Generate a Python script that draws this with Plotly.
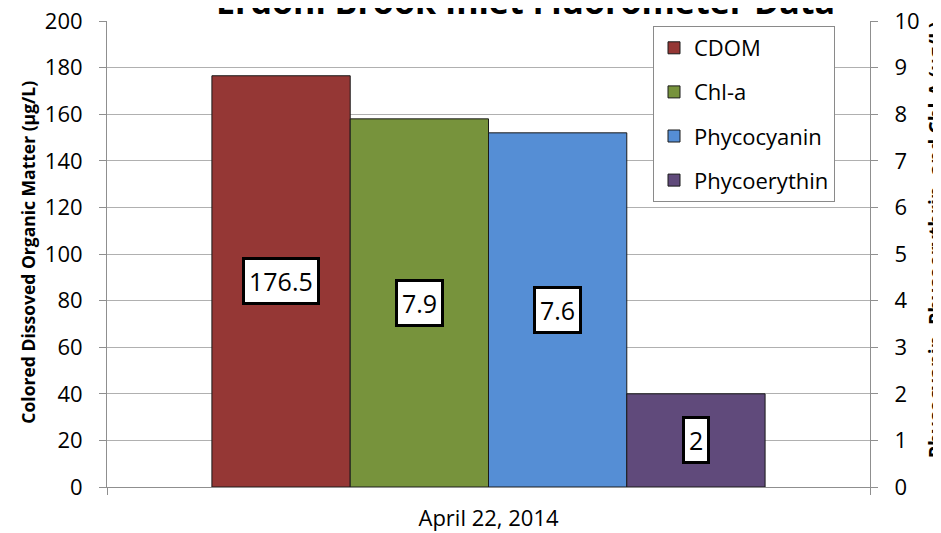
import plotly.graph_objects as go

# ---- data ----
category = ["April 22, 2014"]
series_names = ["CDOM", "Chl-a", "Phycocyanin", "Phycoerythin"]
series_values = [176.5, 7.9, 7.6, 2]
series_axis = ["y", "y2", "y2", "y2"]
series_colors = ["#953735", "#77933C", "#558ED5", "#604A7B"]
left_ticks = list(range(0, 201, 20))
right_ticks = list(range(0, 11, 1))

title_text = "Erdohl Brook Inlet Fluorometer Data"
left_title = "Colored Dissoved Organic Matter (µg/L)"
right_title = "Phycocyanin, Phycoerythrin, and Chl-A (µg/L)"

FONT = "Open Sans"
bargap = 0.275
n = len(series_names)

fig = go.Figure()
for i, (name, val, ax, col) in enumerate(zip(series_names, series_values, series_axis, series_colors)):
    fig.add_trace(go.Bar(
        x=category, y=[val], name=name, yaxis=ax,
        offsetgroup=str(i), legendgroup=str(i),
        marker=dict(color=col, line=dict(color="#1a1a1a", width=1)),
        hoverinfo="skip",
    ))

# data labels (boxed), centred on each bar
w = (1 - bargap) / n
for i, (val, ax) in enumerate(zip(series_values, series_axis)):
    xc = -0.5 * (1 - bargap) + (i + 0.5) * w
    fig.add_annotation(
        x=xc, y=val / 2, xref="x", yref=ax,
        text=str(val), showarrow=False,
        font=dict(family=FONT, size=25, color="black"),
        bgcolor="white", bordercolor="black", borderwidth=3, borderpad=4,
    )

# axis titles
fig.add_annotation(
    x=-0.1035, y=0.503, xref="paper", yref="paper",
    xanchor="center", yanchor="middle",
    text="<b>" + left_title + "</b>", textangle=-90, showarrow=False,
    font=dict(family=FONT, size=17.5, color="black"),
)
fig.add_annotation(
    x=1.0855, y=0.53, xref="paper", yref="paper",
    xanchor="center", yanchor="middle",
    text="<b>" + right_title + "</b>", textangle=-90, showarrow=False,
    font=dict(family=FONT, size=19.5, color="black"),
)

axis_col = "#8f8f8f"
grid_col = "#b0b0b0"
TICK = 22

fig.update_layout(
    width=933, height=525,
    margin=dict(l=99, r=71, t=13, b=46, autoexpand=False),
    paper_bgcolor="white", plot_bgcolor="white",
    title=dict(
        text="<b>" + title_text + "</b>",
        xref="container", yref="container",
        x=0.5547, y=0.988, xanchor="center", yanchor="bottom",
        font=dict(family=FONT, size=34, color="black"),
    ),
    barmode="group", bargap=bargap, bargroupgap=0,
    font=dict(family=FONT, size=TICK, color="black"),
    showlegend=True,
    legend=dict(
        x=(653 - 107) / 763, y=(487 - 26) / 466, xanchor="left", yanchor="top",
        bordercolor="#8a8a8a", borderwidth=1, bgcolor="white",
        font=dict(family=FONT, size=22, color="black"),
        traceorder="grouped", tracegroupgap=12.5,
    ),
    xaxis=dict(
        type="category", tickson="boundaries", ticks="outside", ticklen=7,
        tickcolor=axis_col, showline=True, linecolor=axis_col, linewidth=1,
        showgrid=False, tickfont=dict(size=TICK), range=[-0.5, 0.5],
        automargin=False, ticklabelstandoff=12, ticklabeloverflow="allow",
    ),
    yaxis=dict(
        range=[0, 200], tickvals=left_ticks, ticks="outside", ticklen=7,
        tickcolor=axis_col, showline=True, linecolor=axis_col, linewidth=1,
        showgrid=True, gridcolor=grid_col, gridwidth=1, zeroline=False,
        tickfont=dict(size=TICK), automargin=False,
        ticklabelstandoff=12, ticklabeloverflow="allow",
    ),
    yaxis2=dict(
        range=[0, 10], tickvals=right_ticks, overlaying="y", side="right",
        ticks="outside", ticklen=7, tickcolor=axis_col, showline=True,
        linecolor=axis_col, linewidth=1, showgrid=False, zeroline=False,
        tickfont=dict(size=TICK), automargin=False,
        ticklabelstandoff=12, ticklabeloverflow="allow",
    ),
)

fig.write_html("out.html")
